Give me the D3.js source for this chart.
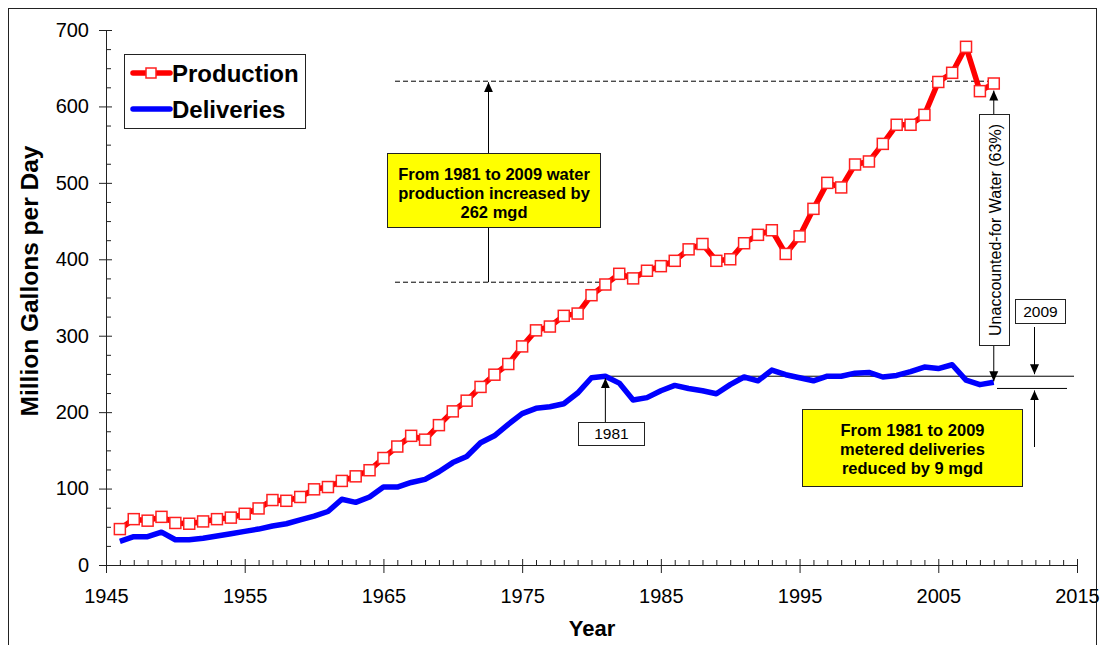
<!DOCTYPE html>
<html><head><meta charset="utf-8">
<script src="https://cdn.jsdelivr.net/npm/d3@7"></script>
<style>body{margin:0;background:#fff}svg{display:block;font-family:"Liberation Sans",Arial,sans-serif}</style>
</head><body>
<svg id="chart" width="1103" height="645"></svg>
<script>
const years = [1946,1947,1948,1949,1950,1951,1952,1953,1954,1955,1956,1957,1958,1959,1960,1961,1962,1963,1964,1965,1966,1967,1968,1969,1970,1971,1972,1973,1974,1975,1976,1977,1978,1979,1980,1981,1982,1983,1984,1985,1986,1987,1988,1989,1990,1991,1992,1993,1994,1995,1996,1997,1998,1999,2000,2001,2002,2003,2004,2005,2006,2007,2008,2009];
const production = [47,60,58,63,55,54,57,60,62,67,74,85,84,89,99,102,110,116,124,140,155,169,164,183,201,215,233,249,263,286,307,312,326,329,353,367,381,375,385,391,398,413,420,398,400,421,432,438,407,430,466,500,494,524,528,551,576,576,589,632,644,678,620,630];
const deliveries = [31,37,37,43,33,33,35,38,41,44,47,51,54,59,64,70,86,82,89,102,102,108,112,122,134,142,160,169,184,198,205,207,211,225,245,247,238,216,219,228,235,231,228,224,236,246,241,255,249,245,241,247,247,251,252,246,248,253,259,257,262,242,236,239];
const xTicks = [1945,1955,1965,1975,1985,1995,2005,2015];
const yTicks = [0,100,200,300,400,500,600,700];
const seriesNames = ["Production","Deliveries"];
const prodLow = 370, prodHigh = 633;      // 1981 and 2009 production reference levels
const delivHigh = 247, delivLow = 231;    // 1981 and 2009 delivery reference levels
const noteProd = ["From 1981 to 2009 water","production increased by","262 mgd"];
const noteDeliv = ["From 1981 to 2009","metered deliveries","reduced by 9 mgd"];
const noteUfw = "Unaccounted-for Water (63%)";

const svg = d3.select("#chart");
const x = d3.scaleLinear().domain([1945,2015]).range([106,1077]);
const y = d3.scaleLinear().domain([0,700]).range([565,30]);
const X0 = 106, Y0 = 565;
const FF = "Liberation Sans, Arial, sans-serif";

// frame
svg.append("rect").attr("x",8.5).attr("y",8.5).attr("width",1088).attr("height",700)
  .attr("fill","none").attr("stroke","#222").attr("stroke-width",1);

const defs = svg.append("defs");
defs.append("marker").attr("id","arr").attr("viewBox","-10 -5 10 10")
  .attr("refX",0).attr("refY",0).attr("markerWidth",10).attr("markerHeight",10)
  .attr("markerUnits","userSpaceOnUse").attr("orient","auto")
  .append("path").attr("d","M0,0 L-10,-4.5 L-10,4.5 Z").attr("fill","#000");

// y minor ticks
const yMinor = d3.range(25,700,25).filter(v=>v%100!==0);
svg.append("g").attr("transform",`translate(${X0},0)`)
  .call(d3.axisRight(y).tickValues(yMinor).tickSize(5).tickFormat(""))
  .call(g=>g.select(".domain").remove())
  .call(g=>g.selectAll("line").attr("stroke","#222"));
// y axis
svg.append("g").attr("transform",`translate(${X0},0)`)
  .call(d3.axisLeft(y).tickValues(yTicks).tickSize(7).tickPadding(10).tickSizeOuter(0))
  .call(g=>g.select(".domain").attr("stroke","#222"))
  .call(g=>g.selectAll(".tick line").attr("x1",6).attr("stroke","#222"))
  .call(g=>g.selectAll("text").attr("font-size",20).attr("fill","#000").attr("font-family",FF));
// x minor ticks
const xMinor = d3.range(1946,2015).filter(v=>v%10!==5);
svg.append("g").attr("transform",`translate(0,${Y0})`)
  .call(d3.axisTop(x).tickValues(xMinor).tickSize(5).tickFormat(""))
  .call(g=>g.select(".domain").remove())
  .call(g=>g.selectAll("line").attr("stroke","#222"));
svg.append("g").attr("transform",`translate(0,${Y0})`)
  .call(d3.axisBottom(x).tickValues(xTicks).tickSize(8).tickPadding(16).tickSizeOuter(0).tickFormat(d3.format("d")))
  .call(g=>g.select(".domain").attr("stroke","#222"))
  .call(g=>g.selectAll(".tick line").attr("y1",-6).attr("stroke","#222"))
  .call(g=>g.selectAll("text").attr("font-size",20).attr("fill","#000").attr("font-family",FF));

// axis titles
svg.append("text").attr("transform","translate(38,281) rotate(-90)").attr("text-anchor","middle")
  .attr("font-size",24.5).attr("font-weight","bold").text("Million Gallons per Day");
svg.append("text").attr("x",592).attr("y",636).attr("text-anchor","middle")
  .attr("font-size",22).attr("font-weight","bold").text("Year");

// annotations: production dashed references
svg.append("line").attr("x1",395).attr("x2",x(2009)+4).attr("y1",y(prodHigh)).attr("y2",y(prodHigh))
  .attr("stroke","#000").attr("stroke-dasharray","5,3").attr("stroke-width",1);
svg.append("line").attr("x1",395).attr("x2",x(1981)).attr("y1",y(prodLow)).attr("y2",y(prodLow))
  .attr("stroke","#000").attr("stroke-dasharray","5,3").attr("stroke-width",1);
svg.append("line").attr("x1",488.5).attr("x2",488.5).attr("y1",y(prodLow)).attr("y2",y(prodHigh)+1)
  .attr("stroke","#000").attr("stroke-width",1).attr("marker-end","url(#arr)");
// yellow box 1
svg.append("rect").attr("x",387.5).attr("y",153.5).attr("width",213).attr("height",74)
  .attr("fill","#ffff00").attr("stroke","#222");
svg.append("g").selectAll("text").data(noteProd).join("text")
  .attr("x",494).attr("y",(d,i)=>174+i*19).attr("dy","0.35em").attr("text-anchor","middle")
  .attr("font-size",16.5).attr("font-weight","bold").text(d=>d);

// deliveries reference lines
svg.append("line").attr("x1",x(1981)).attr("x2",1074).attr("y1",y(delivHigh)).attr("y2",y(delivHigh))
  .attr("stroke","#000").attr("stroke-width",1);
svg.append("line").attr("x1",997).attr("x2",1067).attr("y1",y(delivLow)).attr("y2",y(delivLow))
  .attr("stroke","#000").attr("stroke-width",1);

// series
const prodData = years.map((yr,i)=>({yr,v:production[i]}));
const delData = years.map((yr,i)=>({yr,v:deliveries[i]}));
const line = d3.line().x(d=>x(d.yr)).y(d=>y(d.v));
svg.append("path").datum(delData).attr("d",line).attr("fill","none")
  .attr("stroke","#0000ff").attr("stroke-width",5.5).attr("stroke-linejoin","round");
svg.append("path").datum(prodData).attr("d",line).attr("fill","none")
  .attr("stroke","#ff0000").attr("stroke-width",5.5).attr("stroke-linejoin","round");
svg.append("g").selectAll("rect").data(prodData).join("rect")
  .attr("x",d=>x(d.yr)-5.5).attr("y",d=>y(d.v)-5.5).attr("width",11).attr("height",11)
  .attr("fill","#fff").attr("stroke","#ff2020").attr("stroke-width",1.5);

// 1981 label + arrow
svg.append("line").attr("x1",x(1981)).attr("x2",x(1981)).attr("y1",422).attr("y2",y(delivHigh)+2)
  .attr("stroke","#000").attr("marker-end","url(#arr)");
svg.append("rect").attr("x",578.5).attr("y",422.5).attr("width",66).attr("height",23)
  .attr("fill","#fff").attr("stroke","#222");
svg.append("text").attr("x",611.5).attr("y",434).attr("dy","0.35em").attr("text-anchor","middle")
  .attr("font-size",15.5).text("1981");

// 2009 label + arrows
svg.append("rect").attr("x",1015.5).attr("y",299.5).attr("width",50).attr("height",24)
  .attr("fill","#fff").attr("stroke","#222");
svg.append("text").attr("x",1040.5).attr("y",311.5).attr("dy","0.35em").attr("text-anchor","middle")
  .attr("font-size",15.5).text("2009");
svg.append("line").attr("x1",1034.5).attr("x2",1034.5).attr("y1",327).attr("y2",y(delivHigh)-2)
  .attr("stroke","#000").attr("marker-end","url(#arr)");
svg.append("line").attr("x1",1034.5).attr("x2",1034.5).attr("y1",447).attr("y2",y(delivLow)+2)
  .attr("stroke","#000").attr("marker-end","url(#arr)");

// yellow box 2
svg.append("rect").attr("x",802.5).attr("y",409.5).attr("width",220).attr("height",77)
  .attr("fill","#ffff00").attr("stroke","#222");
svg.append("g").selectAll("text").data(noteDeliv).join("text")
  .attr("x",912.5).attr("y",(d,i)=>430+i*19).attr("dy","0.35em").attr("text-anchor","middle")
  .attr("font-size",16.5).attr("font-weight","bold").text(d=>d);

// Unaccounted-for water box
const xu = x(2009);
svg.append("line").attr("x1",xu).attr("x2",xu).attr("y1",114).attr("y2",y(production[63])+7)
  .attr("stroke","#000").attr("marker-end","url(#arr)");
svg.append("line").attr("x1",xu).attr("x2",xu).attr("y1",346).attr("y2",y(deliveries[63])-1)
  .attr("stroke","#000").attr("marker-end","url(#arr)");
svg.append("rect").attr("x",979.5).attr("y",114.5).attr("width",30).attr("height",231)
  .attr("fill","#fff").attr("stroke","#222");
svg.append("text").attr("transform",`translate(995,230) rotate(-90)`).attr("dy","0.35em")
  .attr("text-anchor","middle").attr("font-size",16).text(noteUfw);

// legend
const lg = svg.append("g");
lg.append("rect").attr("x",124.5).attr("y",54.5).attr("width",181).attr("height",74)
  .attr("fill","#fff").attr("stroke","#222");
lg.append("line").attr("x1",133).attr("x2",170).attr("y1",73).attr("y2",73)
  .attr("stroke","#ff0000").attr("stroke-width",5.5).attr("stroke-linecap","round");
lg.append("rect").attr("x",146).attr("y",68).attr("width",10).attr("height",10)
  .attr("fill","#fff").attr("stroke","#ff2020").attr("stroke-width",1.5);
lg.append("line").attr("x1",133).attr("x2",170).attr("y1",109).attr("y2",109)
  .attr("stroke","#0000ff").attr("stroke-width",5.5).attr("stroke-linecap","round");
lg.selectAll("text.lt").data(seriesNames).join("text").attr("class","lt")
  .attr("x",172).attr("y",(d,i)=>73+i*36).attr("dy","0.36em")
  .attr("font-size",24).attr("font-weight","bold").text(d=>d);
</script>
</body></html>
